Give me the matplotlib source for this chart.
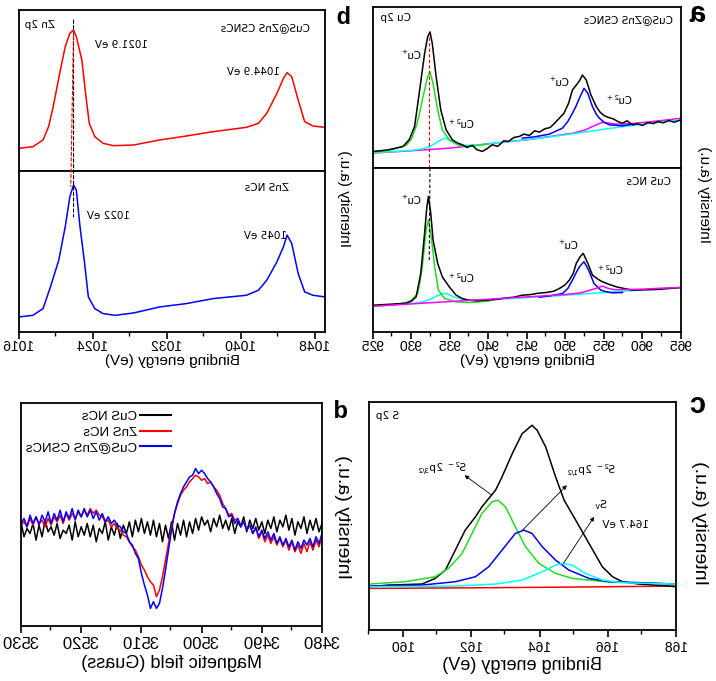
import numpy as np
import matplotlib
matplotlib.use('Agg')
import matplotlib.pyplot as plt
from matplotlib.patches import ConnectionPatch
from matplotlib.ticker import MultipleLocator

plt.rcParams['font.family'] = ['Liberation Sans', 'DejaVu Sans']
plt.rcParams['mathtext.default'] = 'regular'

GREEN = '#22dd22'

# ---- (a) Cu 2p, CuS@ZnS CSNCs (top) ----
cu_sh_e = [925.0, 926.0, 927.0, 928.0, 928.9, 929.7, 930.4, 931.0, 931.7, 932.1,
           932.4, 932.7, 933.2, 933.8, 934.5, 935.3, 936.0, 936.6, 937.2, 937.9,
           938.5, 939.2, 939.8, 940.5, 941.2, 942.0, 942.6, 943.3, 944.0, 944.6,
           945.3, 946.0, 946.6, 947.3, 948.0, 948.6, 949.2, 949.8, 950.4, 950.9,
           951.4, 951.8, 952.2, 952.7, 953.3, 954.0, 954.5, 955.0, 955.6, 956.2,
           956.8, 957.4, 958.0, 958.7, 959.4, 960.0, 960.7, 961.4, 962.0, 962.7,
           963.4, 964.1, 965.0]
cu_sh_i = [50, 52, 55, 60, 65, 85, 125, 225, 345, 395,
           410, 375, 275, 175, 115, 85, 75, 70, 62, 68,
           55, 50, 58, 70, 65, 82, 80, 92, 95, 102,
           98, 112, 108, 118, 122, 135, 150, 165, 195, 235,
           250, 262, 280, 265, 220, 185, 168, 158, 152, 148,
           140, 135, 142, 130, 133, 128, 137, 134, 140, 136,
           143, 138, 145]
cu_sh_g_e = [925, 927, 929.3, 930.0, 930.6, 931.0, 931.5, 932.1, 932.4, 932.8,
             933.4, 934.0, 934.9, 935.8, 936.6, 938, 940]
cu_sh_g_i = [48, 52, 68, 88, 125, 160, 215, 275, 290, 255,
             175, 115, 85, 72, 66, 66, 73]
cu_sh_c_e = [925, 928, 930, 931.5, 932.5, 933.3, 934.0, 934.4, 935.0, 935.8,
             937, 939, 942, 946, 950, 953, 956, 960, 965]
cu_sh_c_i = [46, 50, 53, 58, 66, 78, 87, 90, 83, 74,
             68, 70, 78, 88, 100, 110, 120, 132, 145]
cu_sh_m_e = [925, 930, 935, 940, 945, 948, 951, 952.5, 953.5, 954.7,
             955.5, 956.5, 958, 960, 962.5, 965]
cu_sh_m_i = [45, 52, 60, 73, 85, 95, 105, 114, 125, 137,
             136, 132, 133, 137, 143, 150]
cu_sh_b_e = [944.4, 946, 947.9, 949.6, 950.3, 950.9, 951.4, 951.8, 952.4, 952.9,
             953.5, 954.0, 954.4, 955.0, 955.7, 957.4, 958.7]
cu_sh_b_i = [90, 94, 102, 120, 140, 165, 188, 210, 240, 225,
             185, 162, 150, 138, 130, 127, 132]

# ---- (a) Cu 2p, CuS NCs (bottom) ----
cu_e = [925, 926.5, 928, 929.3, 930.0, 930.6, 931.2, 931.7, 932.0, 932.2,
        932.5, 932.8, 933.4, 934.0, 934.9, 935.8, 936.6, 937.5, 938.5, 939.5,
        940.5, 941.5, 942.3, 943.3, 944.4, 945.5, 946.5, 947.5, 948.5, 949.2,
        949.9, 950.5, 951.0, 951.4, 951.9, 952.3, 952.9, 953.5, 954.2, 954.8,
        955.7, 956.6, 957.6, 958.7, 960, 961.8, 963.5, 965]
cu_i = [80, 82, 84, 86, 92, 105, 175, 295, 375, 405,
        355, 275, 205, 165, 135, 110, 100, 95, 93, 95,
        96, 99, 102, 104, 110, 112, 116, 118, 122, 130,
        140, 155, 175, 205, 225, 235, 205, 170, 158, 150,
        142, 135, 130, 125, 126, 127, 130, 133]
cu_g_e = [925, 928, 929.3, 930.0, 930.8, 931.1, 931.4, 931.7, 931.9, 932.2,
          932.5, 932.8, 933.0, 933.5, 934.3, 935.8, 937.5, 940]
cu_g_i = [77, 82, 88, 95, 115, 150, 195, 260, 305, 335,
          295, 240, 195, 125, 100, 90, 88, 92]
cu_c_e = [925, 928, 930, 931.5, 932.5, 933.3, 934.0, 934.4, 935.0, 935.8,
          937, 940, 945, 950, 955, 960, 965]
cu_c_i = [78, 82, 85, 90, 98, 108, 114, 116, 110, 102,
          96, 96, 103, 110, 118, 126, 133]
cu_m_e = [925, 930, 935, 940, 945, 950, 952, 953.5, 954.8, 955.6,
          956.5, 958, 960, 962.5, 965]
cu_m_i = [77, 84, 91, 98, 105, 112, 117, 127, 137, 130,
          126, 127, 128, 131, 133]
cu_b_e = [946.6, 948, 949.6, 950.3, 950.9, 951.4, 951.8, 952.4, 953.0, 953.7,
          954.6, 955.3, 956.1, 957.4]
cu_b_i = [104, 108, 115, 130, 155, 178, 195, 210, 185, 145,
          125, 120, 117, 118]

# ---- (b) Zn 2p ----
zn_sh_e = [1016.0, 1017.5, 1018.6, 1019.2, 1019.7, 1020.4, 1021.0, 1021.5, 1021.9, 1022.2,
           1022.8, 1023.2, 1023.6, 1024.2, 1025.1, 1026.2, 1028.4, 1031.2, 1034.1, 1037.0,
           1040.6, 1041.9, 1042.8, 1043.9, 1044.6, 1045.0, 1045.5, 1046.2, 1046.9, 1047.8,
           1049.1]
zn_sh_i = [68, 73, 93, 133, 193, 293, 373, 413, 423, 403,
           333, 233, 143, 103, 83, 76, 78, 93, 105, 118,
           131, 143, 173, 233, 278, 295, 283, 213, 148, 135,
           131]
zn_e = [1016.0, 1017.5, 1018.6, 1019.4, 1020.3, 1021.0, 1021.5, 1021.9, 1022.2, 1022.6,
        1023.1, 1023.5, 1024.2, 1025.1, 1026.4, 1028.4, 1031.2, 1034.1, 1037.0, 1040.6,
        1041.9, 1042.8, 1043.9, 1044.6, 1045.0, 1045.5, 1046.2, 1046.9, 1047.8, 1049.1]
zn_i = [45, 50, 70, 135, 215, 315, 405, 440, 425, 315,
        205, 105, 70, 55, 50, 57, 75, 85, 100, 110,
        125, 155, 210, 255, 290, 265, 175, 120, 110, 105]

# ---- (c) S 2p ----
s_e = [158.98, 159.57, 160.55, 160.94, 161.24, 161.53, 161.82, 162.12, 162.31, 162.51,
       162.71, 162.90, 163.20, 163.49, 163.78, 163.93, 164.18, 164.47, 164.72, 165.06,
       165.45, 165.84, 166.14, 166.43, 166.92, 167.41, 168.0]
s_i = [130, 135, 138, 155, 180, 240, 300, 340, 370, 395,
       420, 460, 530, 590, 615, 600, 550, 460, 390, 330,
       260, 190, 160, 145, 138, 135, 130]
s_g_e = [158.98, 160.06, 160.94, 161.33, 161.73, 162.02, 162.31, 162.61, 162.78, 163.0,
         163.29, 163.59, 163.98, 164.47, 164.96, 165.94, 168.0]
s_g_i = [138, 145, 160, 185, 230, 290, 350, 385, 390, 370,
         310, 250, 200, 170, 155, 145, 138]
s_b_e = [158.98, 160.55, 161.53, 162.12, 162.51, 162.9, 163.29, 163.54, 163.78, 164.08,
         164.47, 164.86, 165.45, 166.04, 167.02, 168.0]
s_b_i = [132, 135, 145, 160, 190, 240, 290, 300, 290, 250,
         210, 180, 155, 145, 142, 138]
s_c_e = [158.98, 161.53, 162.71, 163.49, 164.08, 164.47, 164.67, 164.96, 165.35, 165.84,
         166.43, 168.0]
s_c_i = [130, 132, 138, 150, 175, 195, 200, 195, 170, 150,
         142, 138]
s_r_e = [158.98, 162.5, 165.0, 168.0]
s_r_i = [125, 127, 129, 132]

# ---- (d) EPR, field 3480 .. 3530 G in 0.5 G steps ----
epr_field = np.arange(3480, 3530.01, 0.5)
epr_cus = [10, -15, 25, -10, 20, -20, 30, -5, 15, -25, 25, -10, 35, 0, 20, -15, 30, -5, 20, -20, 15,
           -10, 25, -5, 20, -15, 30, 0, 15, -20, 25, -10, 20, -5, 35, 0, 25, -15, 20, 5, 30,
           -10, 25, -20, 15, -30, 20, -25, 10, -40, 15, -35, 5, -45, 10, -30, 20, -25, 15, -20, 25,
           -15, 20, -30, 15, -20, 5, -35, 10, -25, 0, -40, 15, -20, -5, -45, 5, -30, 10, -25, 0,
           -30, 15, -40, 5, -20, -10, -35, 10, -25, 0, -15, 20, -30, 5, -40, 10, -20, -5, -30, 15]
epr_zns = [-30, -60, -40, -70, -45, -75, -50, -80, -55, -75, -45, -70, -40, -60, -35, -55, -30, -50, -25, -45, -15,
           -35, -5, -20, 5, -10, 15, 5, 25, 20, 40, 35, 55, 70, 95, 110, 120, 135, 130, 145,
           140, 150, 155, 145, 135, 120, 110, 95, 70, 40, 0, -50, -100, -150, -190, -210, -175, -165, -150, -130,
           -115, -90, -70, -60, -45, -30, -25, -10, -5, 10, 0, 20, 15, 30, 35, 50, 40, 55, 35, 50,
           30, 45, 25, 40, 20, 40, 10, 35, 15, 30, 5, 25, 0, 20, 10, 30, 5, 25, 0, 15, 5]
epr_csncs = [-20, -50, -30, -60, -35, -55, -40, -65, -45, -70, -40, -60, -35, -55, -30, -50, -20, -40, -15, -35, -10,
             -30, 0, -20, 5, -10, 15, 0, 25, 10, 35, 30, 55, 60, 85, 100, 120, 135, 145, 160,
             170, 160, 175, 155, 150, 135, 120, 100, 75, 40, -10, -70, -130, -185, -230, -245, -225, -245, -205, -175,
             -140, -95, -80, -55, -45, -20, -15, 0, 5, 20, 10, 30, 15, 40, 20, 45, 25, 50, 30, 55,
             30, 50, 20, 55, 25, 45, 15, 50, 20, 40, 10, 45, 15, 35, 5, 30, 10, 35, 0, 25, 10]
epr_labels = ['CuS NCs', 'ZnS NCs', 'CuS@ZnS CSNCs']

W, H = 716, 681
fig = plt.figure(figsize=(W / 100, H / 100), dpi=100)


def box(x0, y0, x1, y1):
    return [x0 / W, 1 - y1 / H, (x1 - x0) / W, (y1 - y0) / H]


def style(ax, xticks=True, size=10, pad=1):
    for s in ax.spines.values():
        s.set_linewidth(1.3)
    ax.set_yticks([])
    if xticks:
        ax.tick_params(axis='x', which='major', direction='out', length=5, width=1.2,
                       pad=pad, labelsize=size)
        ax.tick_params(axis='x', which='minor', direction='out', length=3, width=1.0)
    else:
        ax.tick_params(axis='x', which='both', bottom=False, labelbottom=False)


def note(ax, x, y, s, ha='left', size=7.5):
    ax.text(x, y, s, transform=ax.transAxes, ha=ha, va='center', fontsize=size,
            family=['DejaVu Sans'])


lw = 1.1

# ---------------- (a) Cu 2p ----------------
a1 = fig.add_axes(box(35, 7, 343, 168))
a2 = fig.add_axes(box(35, 168, 343, 332))
for ax in (a1, a2):
    ax.set_xlim(965, 925)
    ax.xaxis.set_major_locator(MultipleLocator(5))
    ax.xaxis.set_minor_locator(MultipleLocator(2.5))
a1.set_ylim(0, 485)
a2.set_ylim(0, 490)
style(a1, False)
style(a2)
a1.plot(cu_sh_m_e, cu_sh_m_i, color='magenta', lw=lw)
a1.plot(cu_sh_c_e, cu_sh_c_i, color='cyan', lw=lw)
a1.plot(cu_sh_b_e, cu_sh_b_i, color='blue', lw=lw)
a1.plot(cu_sh_g_e, cu_sh_g_i, color=GREEN, lw=lw)
a1.plot(cu_sh_e, cu_sh_i, color='black', lw=lw)
a2.plot(cu_c_e, cu_c_i, color='cyan', lw=lw)
a2.plot(cu_b_e, cu_b_i, color='blue', lw=lw)
a2.plot(cu_g_e, cu_g_i, color=GREEN, lw=lw)
a2.plot(cu_e, cu_i, color='black', lw=lw)
a2.plot(cu_m_e, cu_m_i, color='magenta', lw=lw)
a2.set_xlabel('Binding energy (eV)', fontsize=11, labelpad=0)
note(a1, 0.977, 0.93, 'Cu 2p', ha='right')
note(a1, 0.026, 0.92, 'CuS@ZnS CSNCs')
note(a1, 0.84, 0.70, 'Cu$^{+}$')
note(a1, 0.67, 0.27, 'Cu$^{2+}$')
note(a1, 0.36, 0.53, 'Cu$^{+}$')
note(a1, 0.156, 0.42, 'Cu$^{2+}$')
note(a2, 0.032, 0.915, 'CuS NCs')
note(a2, 0.84, 0.80, 'Cu$^{+}$')
note(a2, 0.67, 0.33, 'Cu$^{2+}$')
note(a2, 0.33, 0.53, 'Cu$^{+}$')
note(a2, 0.185, 0.38, 'Cu$^{2+}$')
a1.plot([932.4, 932.4], [395, 0], color='red', lw=0.8, ls=(0, (3, 2)))
a2.plot([932.4, 932.3], [490, 215], color='black', lw=0.8, ls=(0, (3, 2)))
fig.text(12 / W, 1 - 195 / H, 'Intensity (a.u.)', rotation=90, ha='center', va='center',
         fontsize=11)
fig.text(17 / W, 1 - 14 / H, 'a', ha='center', va='center', fontsize=21, weight='bold')

# ---------------- (b) Zn 2p ----------------
b1 = fig.add_axes(box(391, 10, 697, 171))
b2 = fig.add_axes(box(391, 171, 697, 332))
for ax in (b1, b2):
    ax.set_xlim(1049.1, 1016)
    ax.xaxis.set_major_locator(MultipleLocator(8))
    ax.xaxis.set_minor_locator(MultipleLocator(4))
b1.set_ylim(0, 483)
b2.set_ylim(0, 482)
style(b1, False)
style(b2)
b1.plot(zn_sh_e, zn_sh_i, color='red', lw=lw)
b2.plot(zn_e, zn_i, color='blue', lw=lw)
b2.set_xlabel('Binding energy (eV)', fontsize=11, labelpad=0)
note(b1, 0.98, 0.907, 'Zn 2p', ha='right')
note(b1, 0.05, 0.89, 'CuS@ZnS CSNCs')
note(b1, 0.578, 0.78, '1021.9 eV')
note(b1, 0.147, 0.615, '1044.9 eV')
note(b2, 0.118, 0.894, 'ZnS NCs')
note(b2, 0.637, 0.72, '1022 eV')
note(b2, 0.124, 0.596, '1045 eV')
con = ConnectionPatch(xyA=(1021.9, 453), coordsA=b1.transData, xyB=(1021.9, 345),
                      coordsB=b2.transData, color='black', lw=0.8, ls=(0, (3, 2)))
fig.add_artist(con)
con = ConnectionPatch(xyA=(1021.9, 423), coordsA=b1.transData, xyB=(1021.6, 435),
                      coordsB=b2.transData, color='red', lw=0.8, ls=(0, (3, 2)))
fig.add_artist(con)
fig.text(372 / W, 1 - 199 / H, 'Intensity (a.u.)', rotation=90, ha='center', va='center',
         fontsize=11)
fig.text(372 / W, 1 - 18 / H, 'b', ha='center', va='center', fontsize=17, weight='bold')

# ---------------- (c) S 2p ----------------
c = fig.add_axes(box(40, 402, 347, 630))
c.set_xlim(168, 159)
c.set_ylim(0, 685)
c.xaxis.set_major_locator(MultipleLocator(2))
c.xaxis.set_minor_locator(MultipleLocator(1))
style(c, size=10, pad=3)
c.plot(s_r_e, s_r_i, color='red', lw=lw)
c.plot(s_e, s_i, color='black', lw=lw)
c.plot(s_g_e, s_g_i, color=GREEN, lw=lw)
c.plot(s_b_e, s_b_i, color='blue', lw=lw)
c.plot(s_c_e, s_c_i, color='cyan', lw=lw)
c.set_xlabel('Binding energy (eV)', fontsize=13, labelpad=1)
note(c, 0.977, 0.94, 'S 2p', ha='right')
note(c, 0.68, 0.71, 'S$^{2-}$ 2p$_{3/2}$')
note(c, 0.195, 0.70, 'S$^{2-}$ 2p$_{1/2}$')
note(c, 0.22, 0.55, 'S$_{v}$', size=8)
note(c, 0.087, 0.46, '164.7 eV')
arr = dict(arrowstyle='-|>', color='black', lw=0.6, mutation_scale=6, shrinkA=0, shrinkB=0)
c.annotate('', xy=(161.8, 465), xytext=(162.6, 405), arrowprops=arr)
c.annotate('', xy=(164.8, 435), xytext=(163.5, 300), arrowprops=arr)
c.annotate('', xy=(165.6, 340), xytext=(164.7, 200), arrowprops=arr)
fig.text(17 / W, 1 - 523 / H, 'Intensity (a.u.)', rotation=90, ha='center', va='center',
         fontsize=14)
fig.text(18 / W, 1 - 405 / H, 'c', ha='center', va='center', fontsize=21, weight='bold')

# ---------------- (d) EPR ----------------
d = fig.add_axes(box(394, 403, 695, 626))
d.set_xlim(3480, 3530)
d.set_ylim(-298, 372)
d.xaxis.set_major_locator(MultipleLocator(10))
d.xaxis.set_minor_locator(MultipleLocator(5))
style(d, size=12, pad=3)
d.plot(epr_field, epr_cus, color='black', lw=lw, label=epr_labels[0])
d.plot(epr_field, epr_zns, color='red', lw=lw, label=epr_labels[1])
d.plot(epr_field, epr_csncs, color='blue', lw=lw, label=epr_labels[2])
leg = d.legend(loc='upper left', bbox_to_anchor=(0.5, 0.965), frameon=False, fontsize=9.5,
               handlelength=2.4, handletextpad=0.2, labelspacing=0.25, borderpad=0,
               borderaxespad=0)
for ln in leg.get_lines():
    ln.set_linewidth(1.5)
d.set_xlabel('Magnetic field (Guass)', fontsize=13, labelpad=2)
fig.text(373 / W, 1 - 517 / H, 'Intensity (a.u.)', rotation=90, ha='center', va='center',
         fontsize=14)
fig.text(375 / W, 1 - 411 / H, 'd', ha='center', va='center', fontsize=17, weight='bold')

# the reference is a mirror image of the whole figure
fig.canvas.draw()
img = np.asarray(fig.canvas.buffer_rgba())
plt.imsave('out.png', img[:, ::-1])
